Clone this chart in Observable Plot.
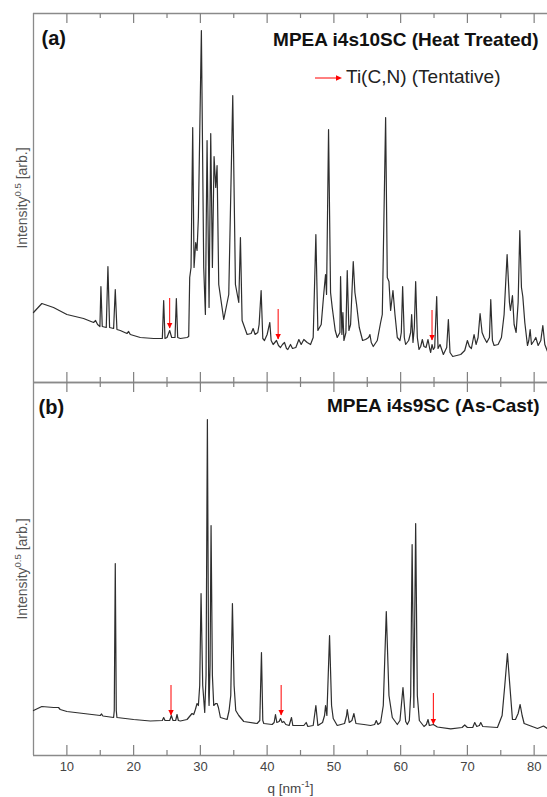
<!DOCTYPE html>
<html><head><meta charset="utf-8">
<script src="https://cdn.jsdelivr.net/npm/d3@7"></script>
<script src="https://cdn.jsdelivr.net/npm/@observablehq/plot@0.6"></script>
<style>
html,body{margin:0;padding:0;background:#fff;}
#chart{position:relative;width:547px;height:797px;overflow:hidden;font-family:"Liberation Sans",Arial,sans-serif;}
#chart svg{display:block;overflow:visible;}
</style></head>
<body><div id="chart"></div>
<script>
// ---------- data (q in nm^-1, intensity^0.5 in arb. units) ----------
const qA = [5.0,6.25,8.0,10.0,12.5,14.0,14.3,14.6,14.95,15.1,15.3,15.9,16.15,16.4,17.0,17.25,17.5,18.0,19.0,19.25,19.5,21.0,23.0,24.3,24.5,24.7,25.0,25.4,25.7,26.2,26.4,26.6,27.0,28.0,28.25,28.4,28.6,28.85,29.05,29.3,29.5,29.7,30.15,30.5,30.75,31.0,31.3,31.55,31.8,32.05,32.3,32.5,32.75,33.5,34.25,34.85,35.25,35.75,36.0,36.25,37.0,37.6,37.9,38.2,38.6,38.8,39.1,39.35,39.6,40.0,40.4,40.6,40.9,41.4,41.7,42.0,42.3,42.6,42.9,43.1,43.5,43.8,44.3,44.75,45.1,45.5,46.0,46.5,46.9,47.3,47.6,48.1,48.5,48.75,48.9,49.2,49.5,49.75,50.2,50.5,50.9,51.0,51.2,51.35,51.5,51.8,52.0,52.25,52.5,52.9,53.15,53.4,53.8,54.3,54.75,55.2,55.4,55.6,55.9,56.5,57.0,57.25,57.75,58.0,58.25,58.5,58.85,59.15,59.5,59.9,60.1,60.3,60.55,60.75,61.2,61.5,61.65,61.85,62.05,62.25,62.5,62.75,63.0,63.25,63.5,63.8,64.1,64.35,64.5,64.7,64.9,65.1,65.4,65.6,65.9,66.4,66.9,67.15,67.4,67.8,69.0,69.6,70.0,70.3,70.6,71.0,71.3,71.6,71.9,72.2,72.5,72.9,73.3,73.5,73.75,74.0,74.6,75.1,75.5,75.95,76.3,76.45,76.75,77.0,77.3,77.6,77.85,78.1,78.3,78.6,79.0,79.2,79.4,79.6,80.0,80.25,80.6,81.0,81.3,81.6,82.0];
const iA = [70,79,75,68,64,60,62,58,56,96,56,55,116,55,54,93,53,52,49,51,48,45,44,44,82,44,45,52,45,45,84,45,44,45,46,105,115,255,115,140,132,165,352,115,68,242,75,249,115,226,195,217,98,63,88,287,98,80,145,62,48,49,54,48,50,58,92,44,42,48,60,42,38,42,37,35,38,40,34,33,38,34,35,43,38,43,40,38,45,148,52,58,90,108,88,253,90,75,52,45,50,106,48,70,42,50,112,52,58,121,90,78,55,42,43,45,48,40,36,42,60,68,265,105,101,72,92,68,45,42,50,96,45,38,42,50,68,40,55,101,45,33,36,43,36,35,43,34,30,38,33,35,86,34,38,28,35,63,30,26,28,32,42,36,34,48,38,45,69,50,45,40,45,83,42,37,38,45,68,128,80,72,87,58,50,80,152,95,86,60,37,42,53,38,42,45,37,42,57,38,31];

const qB = [5.0,6.25,8.0,8.75,9.0,10.0,12.5,15.0,15.2,15.4,17.0,17.1,17.25,17.4,17.5,20.0,22.5,24.3,24.5,24.7,25.4,25.65,25.9,26.3,26.5,26.7,27.0,28.0,28.5,28.75,29.0,29.25,29.5,29.7,29.9,30.1,30.35,30.65,30.85,31.05,31.25,31.3,31.45,31.6,31.8,32.0,32.3,32.5,32.7,33.0,34.0,34.3,34.55,34.8,35.05,35.3,35.75,36.5,38.5,38.9,39.15,39.35,39.5,40.75,41.05,41.25,41.45,41.8,42.0,42.25,42.5,42.8,43.3,43.65,43.85,45.5,45.85,46.1,46.9,47.3,47.6,48.3,48.6,48.75,48.95,49.35,49.65,49.9,50.5,51.6,51.9,52.0,52.3,52.7,53.0,53.3,54.5,55.5,56.1,56.35,56.6,57.0,57.4,57.85,58.25,58.75,59.5,59.9,60.35,60.75,61.0,61.3,61.5,61.72,61.98,62.25,62.5,62.8,63.5,63.85,64.1,64.3,64.9,65.5,67.5,69.2,69.6,70.0,70.8,71.1,71.4,71.8,72.0,72.3,74.5,75.2,75.6,76.0,76.3,76.75,77.2,77.6,77.9,78.2,78.5,80.5,81.4,82.0];
const iB = [45,49,48,48,46,44,42,40,41.5,39.5,38,45,192,45,38,36,34.5,35,38,35,35,40,35,35,41,35,34.5,36,40,42,41,46,52,50,70,162,70,43,80,336,60,50,90,230,80,50,52,52,48,38,36,45,60,152,70,45,40,34,32,35,103,35,32,31,33,41,33,34,37,33,34,31,30,38,30,30,33,29,30,50,30,33,40,50,40,120,50,37,30,32,40,46,33,35,42,32,31,30,31,35,31,33,50,144,60,38,31,35,68,34,31,35,60,211,48,232,60,35,29,31,36,30,31,28.5,26.7,28,30.5,28,28,33,29,30,33,29,28,40,70,102,75,36,36,42,51,40,32,27,29.5,27];

// tentative Ti(C,N) markers: position, arrow start, arrow tip
const markQA = [25.4, 41.65, 64.7];
const markTopA = [84, 73, 72];
const markTipA = [54, 43, 42];
const markQB = [25.6, 42.1, 64.9];
const markTopB = [70, 70, 62];
const markTipB = [40, 40, 31];

const majorTicks = [10, 20, 30, 40, 50, 60, 70, 80];
const minorTicks = [15, 25, 35, 45, 55, 65, 75];
const xDomain = [5, 82];
const yMaxA = 369, yMaxB = 373;

const tagA = "(a)", tagB = "(b)";
const titleA = "MPEA i4s10SC (Heat Treated)";
const titleB = "MPEA i4s9SC (As-Cast)";
const legendLabel = "Ti(C,N) (Tentative)";
const yLabelParts = ["Intensity", "0.5", " [arb.]"];
const xLabelParts = ["q [nm", "-1", "]"];

// ---------- build ----------
const FONT = "Liberation Sans, Arial, sans-serif";
const frameColor = "#8a8a8a";
const tickColor = "#808080";
const Y_LABEL = yLabelParts.join("");
const X_LABEL = xLabelParts.join("");
const triangleDown = {draw(ctx) { ctx.moveTo(-2.7, -5.5); ctx.lineTo(2.7, -5.5); ctx.lineTo(0, 0); ctx.closePath(); }};

function panel({q, v, mq, mTop, mTip, yMax, height, marginTop, marginBottom, tag, title, tagDx, tagDy, titleDx, titleDy, bottomAxis}) {
  const spec = q.map((x, i) => ({q: x, v: v[i]}));
  const marks = mq.map((x, i) => ({q: x, top: mTop[i], tip: mTip[i]}));
  const frameH = height - marginTop - marginBottom;
  const m = [
    Plot.ruleY([0, yMax], {stroke: frameColor, strokeWidth: 1.3}),
    Plot.ruleX([xDomain[0]], {stroke: frameColor, strokeWidth: 1.3}),
    Plot.tickX(majorTicks, {x: d => d, insetBottom: frameH - 10, stroke: tickColor, strokeWidth: 1.2}),
    Plot.tickX(majorTicks, {x: d => d, insetTop: frameH - 10, stroke: tickColor, strokeWidth: 1.2}),
    Plot.tickX(minorTicks, {x: d => d, insetBottom: frameH - 5, stroke: tickColor, strokeWidth: 1.2}),
    Plot.tickX(minorTicks, {x: d => d, insetTop: frameH - 5, stroke: tickColor, strokeWidth: 1.2}),
    Plot.line(spec, {x: "q", y: "v", stroke: "#2e2e2e", strokeWidth: 1.2}),
    Plot.ruleX(marks, {x: "q", y1: "top", y2: "tip", stroke: "#f00", strokeWidth: 1}),
    Plot.dot(marks, {x: "q", y: "tip", symbol: triangleDown, fill: "#f00", stroke: "none", r: 3}),
    Plot.text([tag], {text: d => d, frameAnchor: "top-left", textAnchor: "start", lineAnchor: "top", dx: tagDx, dy: tagDy, fontSize: 20, fontWeight: "bold", fill: "#111"}),
    Plot.text([title], {text: d => d, frameAnchor: "top-right", textAnchor: "end", lineAnchor: "top", dx: titleDx, dy: titleDy, fontSize: 19, fontWeight: "bold", fill: "#111"}),
    Plot.text([Y_LABEL], {text: d => d, frameAnchor: "left", textAnchor: "middle", rotate: -90, dx: -11, fontSize: 14, fill: "#555"})
  ];
  if (bottomAxis) {
    m.push(Plot.text(majorTicks, {x: d => d, text: d => String(d), frameAnchor: "bottom", textAnchor: "middle", dy: 15, fontSize: 13, fill: "#444"}));
    m.push(Plot.text([X_LABEL], {text: d => d, frameAnchor: "bottom", textAnchor: "middle", dy: 37, fontSize: 13.5, fill: "#444"}));
  }
  return Plot.plot({
    width: 547, height, marginTop, marginBottom, marginLeft: 33, marginRight: 0,
    x: {domain: xDomain, axis: null},
    y: {domain: [0, yMax], axis: null},
    style: {fontFamily: FONT, overflow: "visible", background: "transparent"},
    marks: m
  });
}

function superscript(svg, whole, parts) {
  d3.select(svg).selectAll("text").filter(function() { return this.textContent === whole; }).each(function() {
    const t = d3.select(this);
    t.attr("text-anchor", "middle");
    t.text(null);
    t.append("tspan").text(parts[0]);
    t.append("tspan").attr("font-size", 9.5).attr("dy", -6).text(parts[1]);
    t.append("tspan").attr("dy", 6).text(parts[2]);
  });
}

const chart = document.getElementById("chart");
const a = panel({q: qA, v: iA, mq: markQA, mTop: markTopA, mTip: markTipA, yMax: yMaxA, height: 382, marginTop: 13, marginBottom: 0,
  tag: tagA, title: titleA, tagDx: 8, tagDy: 17, titleDx: -9, titleDy: 19, bottomAxis: false});
const b = panel({q: qB, v: iB, mq: markQB, mTop: markTopB, mTip: markTipB, yMax: yMaxB, height: 415, marginTop: 0, marginBottom: 42,
  tag: tagB, title: titleB, tagDx: 5, tagDy: 17, titleDx: -8, titleDy: 16, bottomAxis: true});
chart.appendChild(a);
chart.appendChild(b);
for (const s of [a, b]) { superscript(s, Y_LABEL, yLabelParts); superscript(s, X_LABEL, xLabelParts); }

// legend (red arrow + label) inside panel (a)
const leg = document.createElement("div");
leg.style.cssText = "position:absolute;left:314px;top:67px;height:19px;white-space:nowrap;";
leg.innerHTML = '<svg width="30" height="10" style="position:absolute;left:0;top:6.3px;overflow:visible"><line x1="1" x2="23" y1="5" y2="5" stroke="#f00" stroke-width="1"/><polygon points="22,2.3 28,5 22,7.7" fill="#f00"/></svg>';
const lt = document.createElement("span");
lt.textContent = legendLabel;
lt.style.cssText = "position:absolute;left:32px;top:0;font-size:19px;line-height:19px;color:#222;font-family:" + FONT + ";";
leg.appendChild(lt);
chart.appendChild(leg);
</script>
</body></html>
